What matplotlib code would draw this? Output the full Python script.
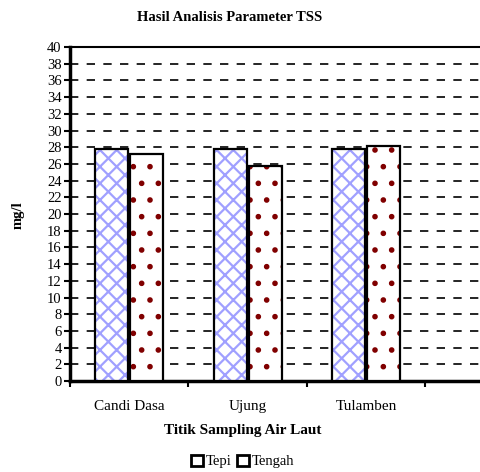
import matplotlib
matplotlib.use('Agg')
import matplotlib.pyplot as plt
from matplotlib.patches import Patch
import numpy as np

plt.rcParams['font.family'] = ['Liberation Serif', 'DejaVu Serif']
plt.rcParams['hatch.linewidth'] = 1.6

lokasi = ['Candi Dasa', 'Ujung', 'Tulamben']
tepi = [27.8, 27.8, 27.8]
tengah = [27.2, 25.8, 28.2]
yticks = list(range(0, 42, 2))

fig = plt.figure(figsize=(4.81, 4.72), dpi=100)
ax = fig.add_axes([0.1455, 0.1928, 0.8545, 0.7076])

x = np.arange(len(lokasi))
w = 0.28

# isi hatch dulu, lalu garis tepi hitam di atasnya
ax.bar(x - w / 2 - 0.008, tepi, w, color='white', edgecolor='#a0a0ff', hatch='xx', linewidth=0, zorder=3)
ax.bar(x - w / 2 - 0.008, tepi, w, fill=False, edgecolor='black', linewidth=1.6, zorder=4)
ax.bar(x + w / 2 + 0.008, tengah, w, color='white', edgecolor='#800000', hatch='.', linewidth=0, zorder=3)
ax.bar(x + w / 2 + 0.008, tengah, w, fill=False, edgecolor='black', linewidth=1.6, zorder=4)

ax.set_ylim(0, 40)
ax.set_xlim(-0.5, 2.97)
ax.set_yticks(yticks)
ax.tick_params(axis='y', labelsize=10.5, length=4, width=1.5, pad=2)
ax.set_xticks(x)
ax.set_xticklabels(lokasi, fontsize=11)
ax.set_xticks(np.arange(len(lokasi) + 1) - 0.5, minor=True)
ax.tick_params(axis='x', which='major', length=0, pad=14)
ax.tick_params(axis='x', which='minor', length=4, width=1.5)

ax.grid(axis='y', color='black', linestyle=(0, (5, 5)), linewidth=1.2, zorder=0)
ax.set_axisbelow(True)

ax.spines['left'].set_linewidth(2.5)
ax.spines['bottom'].set_linewidth(2.5)
ax.spines['top'].set_linewidth(1.5)
ax.spines['right'].set_visible(False)

fig.text(0.478, 0.963, 'Hasil Analisis Parameter TSS', ha='center', va='center',
         fontsize=10.5, fontweight='bold')
fig.text(0.037, 0.545, 'mg/l', ha='center', va='center', rotation=90,
         fontsize=10.5, fontweight='bold')
fig.text(0.505, 0.088, 'Titik Sampling Air Laut', ha='center', va='center',
         fontsize=11, fontweight='bold')

handles = [Patch(facecolor='white', edgecolor='black', linewidth=2),
           Patch(facecolor='white', edgecolor='black', linewidth=2)]
fig.legend(handles, ['Tepi', 'Tengah'], loc='center', bbox_to_anchor=(0.505, 0.022),
           ncol=2, frameon=False, fontsize=10.5, handlelength=0.8, handleheight=0.8,
           handletextpad=0.2, columnspacing=0.4)

fig.savefig('out.png', dpi=100)
